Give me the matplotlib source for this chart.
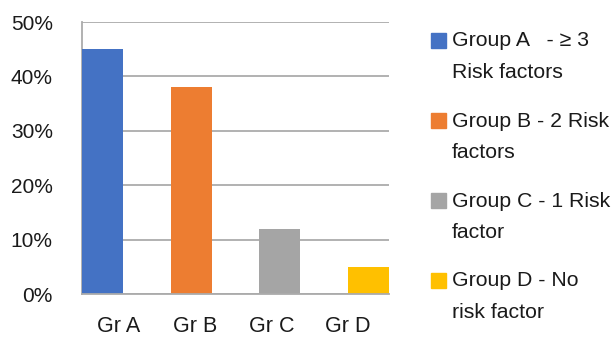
import matplotlib
matplotlib.use("Agg")
import matplotlib.pyplot as plt
from matplotlib.patches import Rectangle
from matplotlib.ticker import PercentFormatter

plt.rcParams['font.family'] = ['Liberation Sans', 'DejaVu Sans']

groups = ["Gr A", "Gr B", "Gr C", "Gr D"]
shares = [45, 38, 12, 5]
colors = ["#4472C4", "#ED7D31", "#A5A5A5", "#FFC000"]
legend_labels = [
    "Group A   - \u2265 3\nRisk factors",
    "Group B - 2 Risk\nfactors",
    "Group C - 1 Risk\nfactor",
    "Group D - No\nrisk factor",
]

W, H = 615, 337
fig = plt.figure(figsize=(W / 100, H / 100), dpi=100)
ax = fig.add_axes([82 / W, 1 - 294 / H, 307 / W, 272 / H])

width = 0.462
x = list(range(len(groups)))
ax.bar(x, shares, width=width, color=colors, zorder=3)

ax.set_xlim(-width / 2, len(groups) - 1 + width / 2)
ax.set_ylim(0, 50)
ax.set_yticks(range(0, 51, 10))
ax.yaxis.set_major_formatter(PercentFormatter(decimals=0))
# category labels sit on a slightly tighter spacing than the bars
ax.set_xticks([0.18 + 0.862 * i for i in x])
ax.set_xticklabels(groups)

grid_col = "#ABABAB"
ax.grid(axis='y', color=grid_col, lw=1.3, zorder=0)
for side in ("top", "right", "bottom"):
    ax.spines[side].set_visible(False)
ax.spines['left'].set_color(grid_col)
ax.spines['left'].set_linewidth(1.3)
ax.axhline(0, color=grid_col, lw=1.3, zorder=4, clip_on=False)
ax.tick_params(length=0, colors="#1a1a1a")
ax.tick_params(axis='y', pad=21, labelsize=15)
ax.tick_params(axis='x', pad=16, labelsize=15.5)

# legend drawn by hand so each entry can wrap onto two lines
for i, (lab, col) in enumerate(zip(legend_labels, colors)):
    yc = 40 + 80 * i
    fig.patches.append(Rectangle((431 / W, 1 - (yc + 7.5) / H), 15 / W, 15 / H,
                                 transform=fig.transFigure, color=col))
    for j, line in enumerate(lab.split("\n")):
        fig.text(452 / W, 1 - (yc + 1 + 32 * j) / H, line, fontsize=15.3,
                 color="#1a1a1a", va='center', ha='left')

fig.savefig("out.png", dpi=100)
